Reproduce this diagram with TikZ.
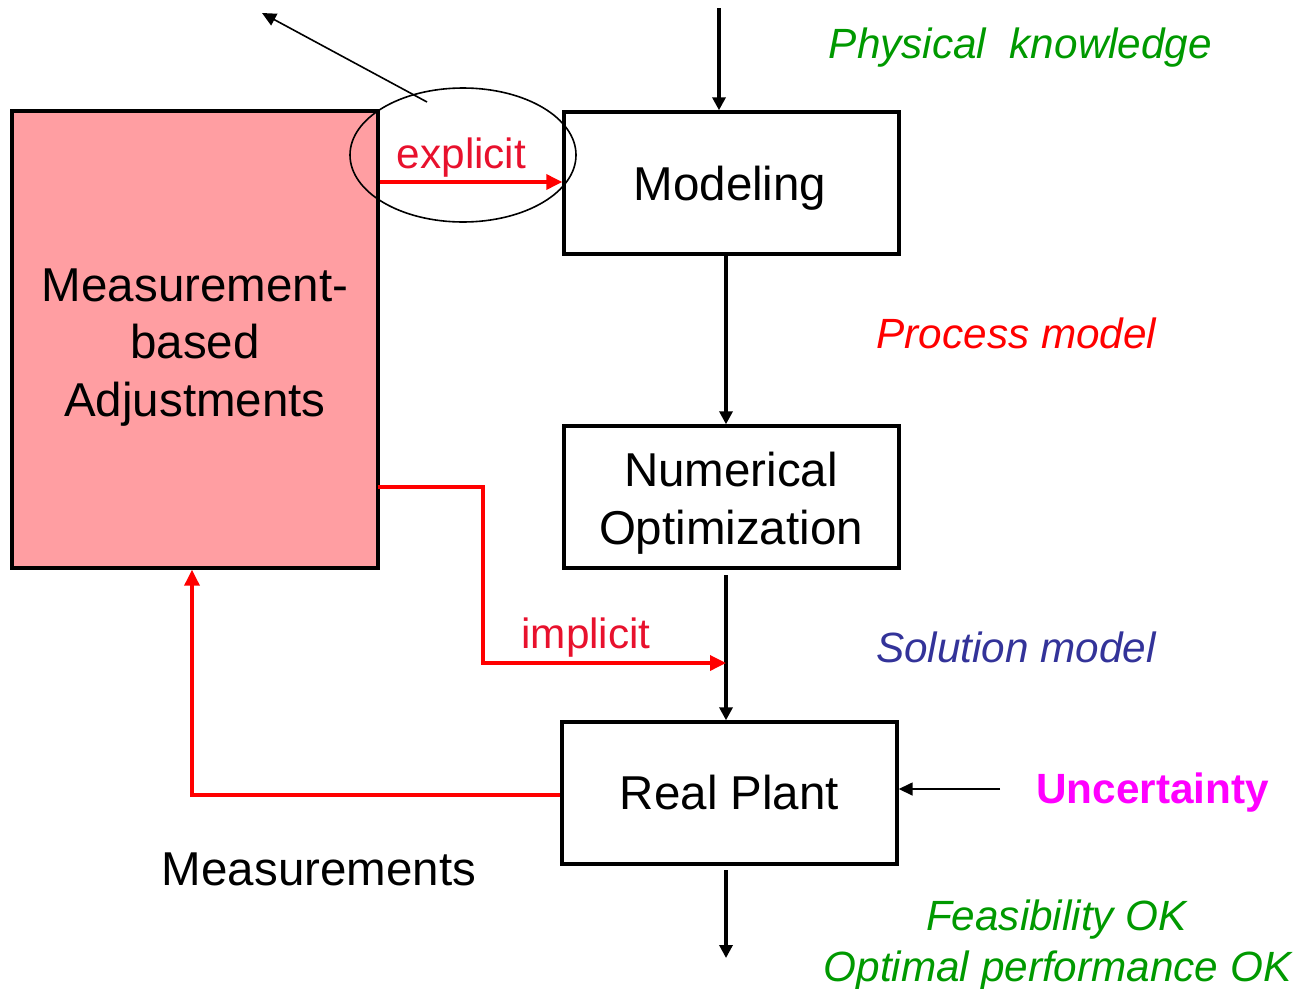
\documentclass[tikz,border=0pt]{standalone}
\usepackage{fontspec}
\setmainfont{Liberation Sans}
\usetikzlibrary{arrows.meta,shapes.geometric}
\definecolor{boxpink}{HTML}{FF9EA2}
\definecolor{labgreen}{HTML}{009900}
\definecolor{labblue}{HTML}{333399}
\definecolor{labcrimson}{HTML}{E8112D}
\definecolor{labmagenta}{HTML}{FF00FF}
\tikzset{
  blockbox/.style={draw=black, line width=3.4pt, minimum width=335pt, minimum height=142pt, inner sep=0pt},
  big/.style={font=\fontsize{47.5}{57.5}\selectfont, inner sep=0pt},
  small/.style={font=\fontsize{42.3}{51}\selectfont, inner sep=0pt},
  flow/.style={draw=black, line width=3.4pt, -{Triangle[length=13pt,width=13pt]}},
  thinarrow/.style={draw=black, line width=1.6pt, -{Triangle[length=14pt,width=13pt]}},
  redflow/.style={draw=red, line width=3.4pt, -{Triangle[length=16pt,width=15pt]}},
}
\begin{document}
\begin{tikzpicture}[x=1pt,y=-1pt]
\useasboundingbox (0,0) rectangle (1300,988);

% blocks
\node[blockbox, fill=boxpink, minimum width=366pt, minimum height=457pt] (mba) at (195,339.5) {};
\node[blockbox] (model)  at (731.5,183) {};
\node[blockbox] (numopt) at (731.5,497) {};
\node[blockbox] (plant)  at (729.5,793) {};

% block texts
\node[big, align=center] (mbat) at (195,347.5) {Measurement-\\based\\Adjustments};
\node[big, anchor=base] (modelt) at (730,200) {Modeling};
\node[big, align=center] (numoptt) at (731,503) {Numerical\\Optimization};
\node[big] (plantt) at (729.5,793) {Real Plant};
\node[big, anchor=base] (meas) at (319,885) {Measurements};

% side labels
\node[small, anchor=base, text=labgreen, font=\fontsize{42.3}{51}\selectfont\itshape] (phys) at (1020.5,58) {Physical\ \ knowledge};
\node[small, anchor=base, text=red, font=\fontsize{42.3}{51}\selectfont\itshape] (proc) at (1016.5,348) {Process model};
\node[small, anchor=base, text=labblue, font=\fontsize{42.3}{51}\selectfont\itshape] (sol) at (1016,662) {Solution model};
\node[small, anchor=base, text=labmagenta, font=\fontsize{42.3}{51}\selectfont\bfseries] (unc) at (1152.5,803) {Uncertainty};
\node[small, anchor=base, text=labgreen, font=\fontsize{42.3}{51}\selectfont\itshape] (feas) at (1056.5,930) {Feasibility OK};
\node[small, anchor=base, text=labgreen, font=\fontsize{42.3}{51}\selectfont\itshape] (opt) at (1057.5,981) {Optimal performance OK};
\node[small, anchor=base, text=labcrimson] (expl) at (461.5,168) {explicit};
\node[small, anchor=base, text=labcrimson] (impl) at (586,648) {implicit};

% main flow
\coordinate (topin) at (719,8);
\coordinate (spine) at (726,0);
\coordinate (solstart) at (726,575);
\coordinate (outstart) at (726,870);
\coordinate (outend) at (726,958);
\coordinate (uncin) at (1000,789);
\draw[flow] (topin) -- (topin |- model.north);
\draw[flow] (model.south -| spine) -- (numopt.north -| spine);
\draw[flow] (solstart) -- (plant.north -| solstart);
\draw[flow] (outstart) -- (outend);
\draw[thinarrow] (uncin) -- (uncin -| plant.east);

% adjustment paths
\coordinate (explrow) at (0,182);
\draw[redflow] (mba.east |- explrow) -- (model.west |- explrow);
\coordinate (implout) at (378,487);
\coordinate (implbend) at (483,487);
\coordinate (impljoin) at (726,663);
\draw[redflow] (implout) -- (implbend) |- (impljoin);
\coordinate (fbrow) at (0,795);
\coordinate (fbcol) at (192,0);
\draw[redflow] (plant.west |- fbrow) -| (fbcol |- mba.south);

% highlight of the explicit path
\node[draw=black, line width=1.6pt, ellipse, minimum width=226pt, minimum height=134pt, inner sep=0pt] (hl) at (463,155) {};
\coordinate (ptrfrom) at (427,102);
\coordinate (ptrto) at (262,13);
\draw[thinarrow] (ptrfrom) -- (ptrto);
\end{tikzpicture}
\end{document}
